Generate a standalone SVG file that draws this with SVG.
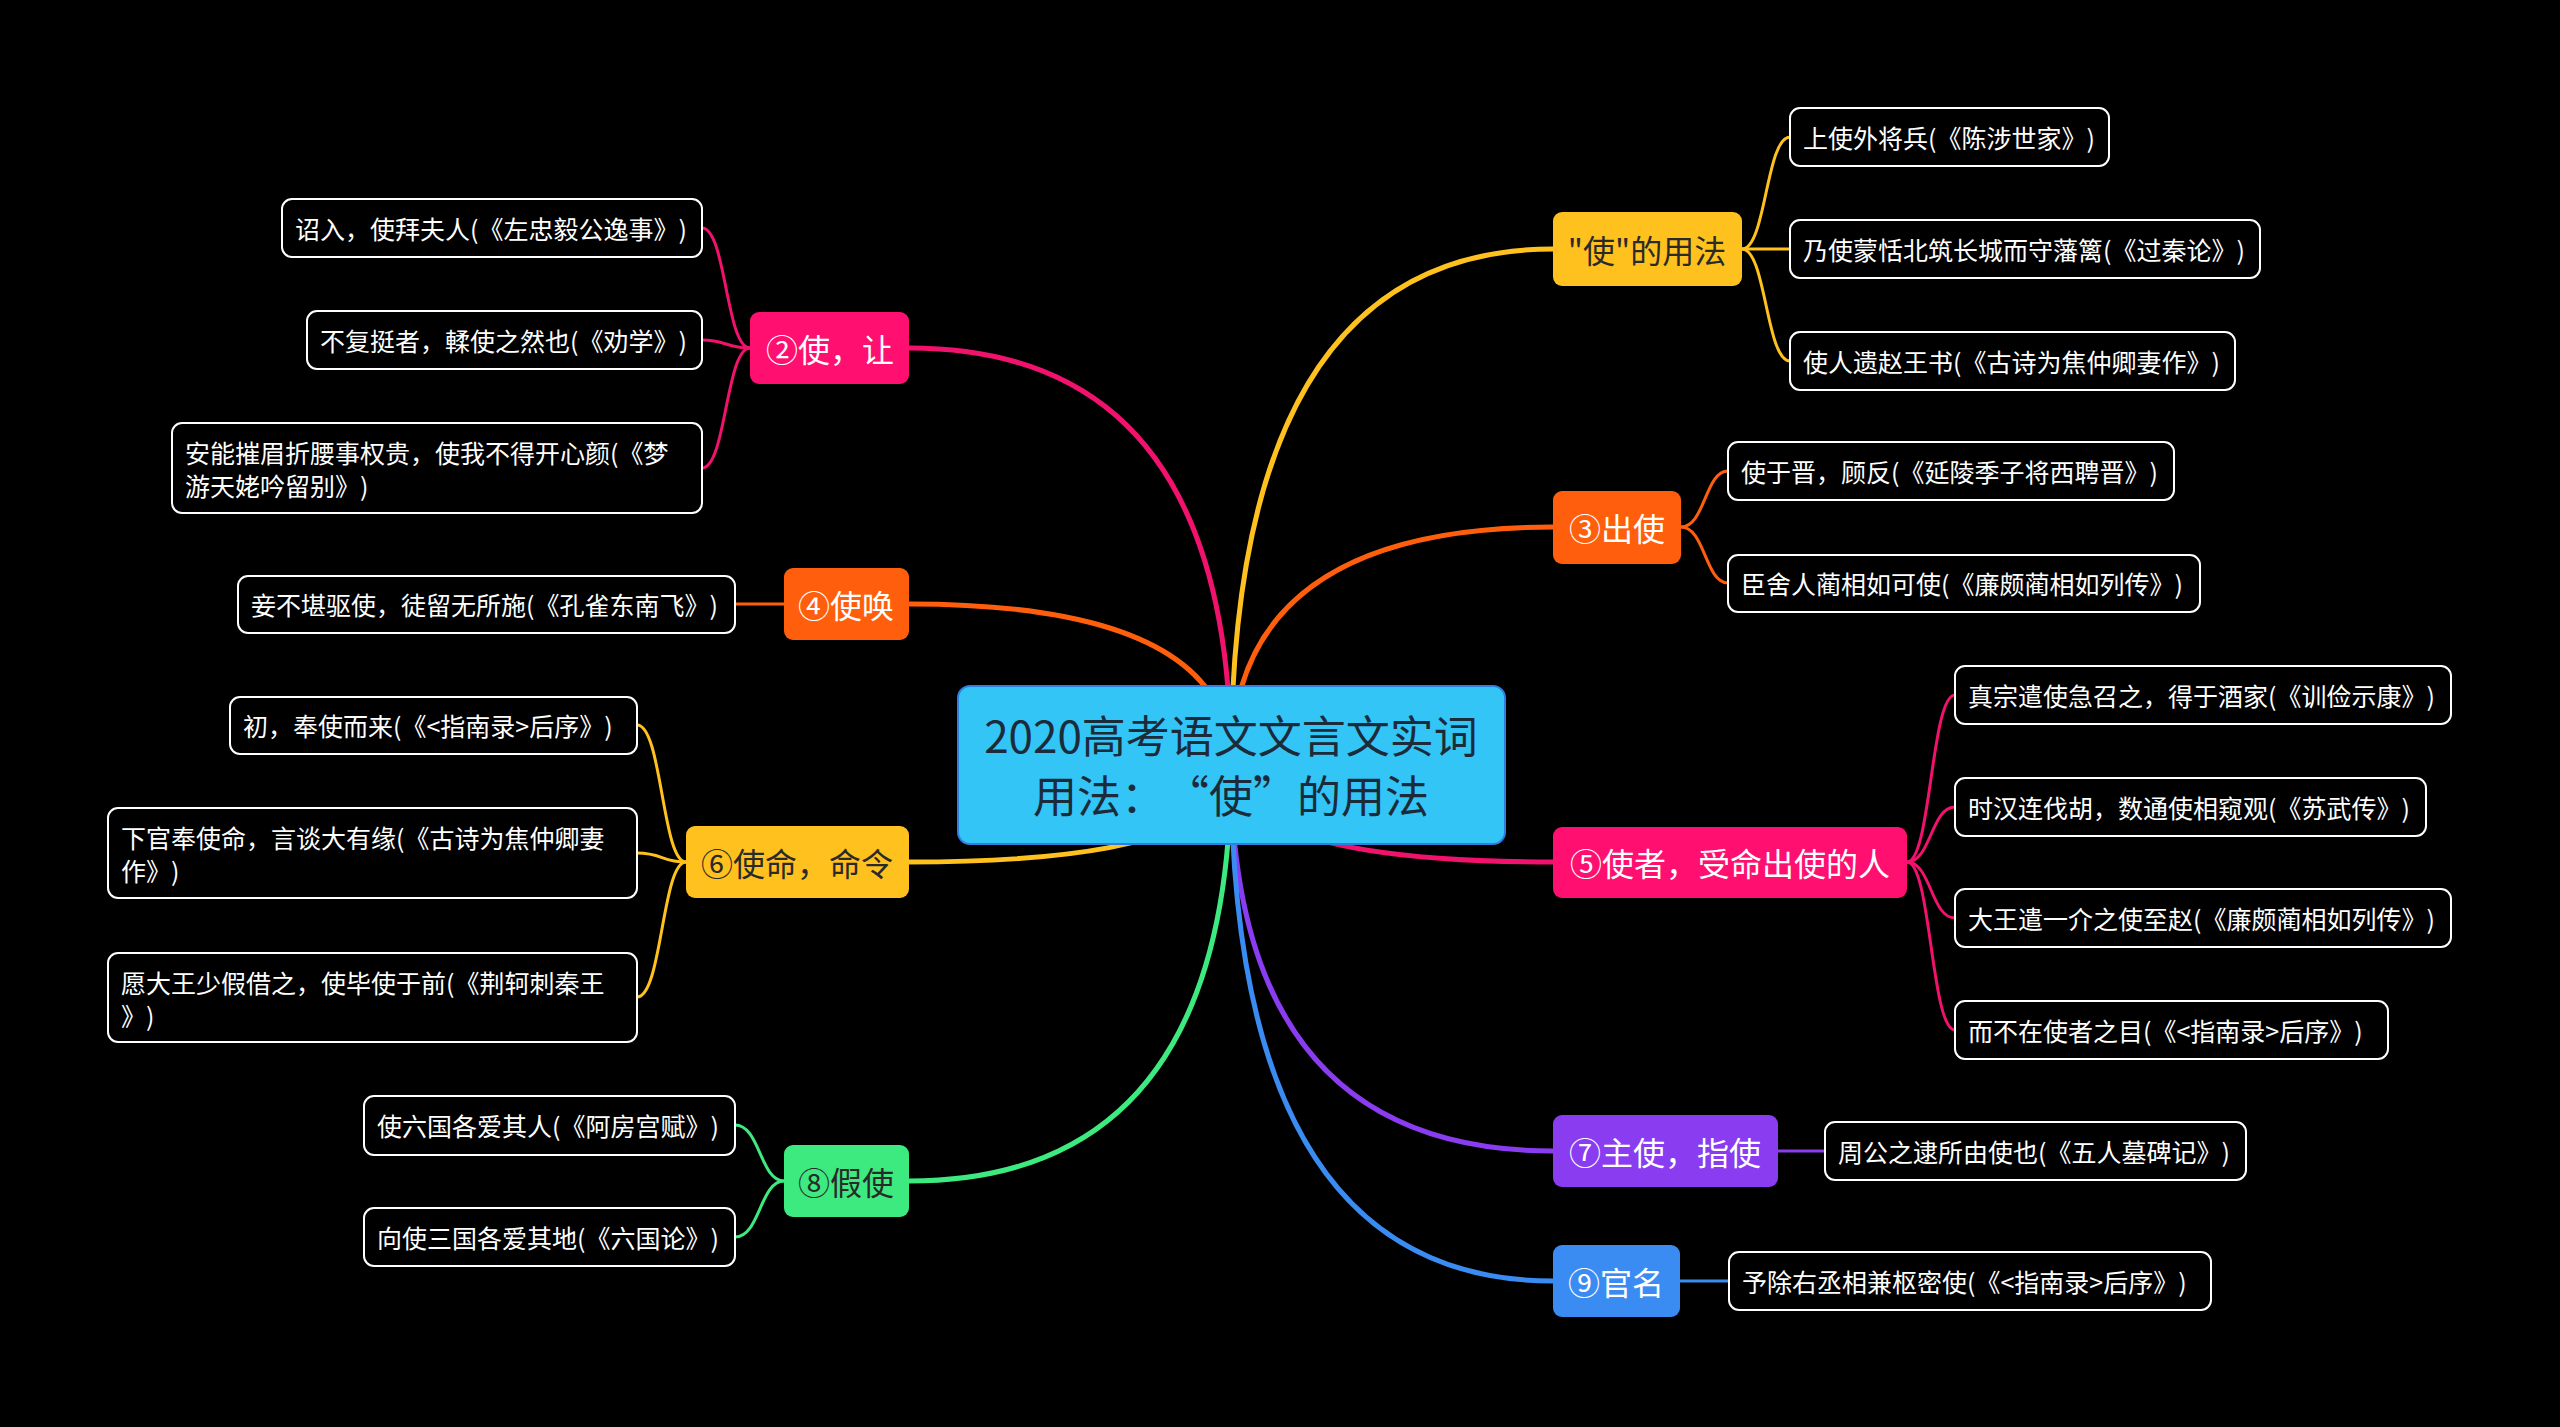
<svg xmlns="http://www.w3.org/2000/svg" width="2560" height="1427" viewBox="0 0 2560 1427">
<style>
text{font-family:"Noto Sans CJK SC","Noto Sans",sans-serif;dominant-baseline:central;text-spacing-trim:space-all;font-feature-settings:"halt" 0,"chws" 0}
.leaf rect{fill:#000;stroke:#fff;stroke-width:2}
.leaf text{fill:#fff;font-size:25px}
.br text{font-size:32px;text-anchor:middle}
.c1{fill:none;stroke-width:5;stroke-linecap:round}
.c2{fill:none;stroke-width:3;stroke-linecap:round}
.y{stroke:#FFC11E}.p{stroke:#F0126C}.o{stroke:#FF5F0D}.v{stroke:#8A3CF0}.g{stroke:#3DEA80}.b{stroke:#3B8CF2}
</style>
<rect x="0" y="0" width="2560" height="1427" fill="#000"/>
<g id="connectors">
<path class="c1 y" d="M1231 765 Q1231 249 1553 249"/>
<path class="c1 p" d="M1231 765 Q1231 348 909 348"/>
<path class="c1 o" d="M1231 765 Q1231 527 1553 527"/>
<path class="c1 o" d="M1231 765 Q1231 604 909 604"/>
<path class="c1 p" d="M1231 765 Q1231 862 1553 862"/>
<path class="c1 y" d="M1231 765 Q1231 862 909 862"/>
<path class="c1 v" d="M1231 765 Q1231 1151 1553 1151"/>
<path class="c1 g" d="M1231 765 Q1231 1181 909 1181"/>
<path class="c1 b" d="M1231 765 Q1231 1281 1553 1281"/>
<path class="c2 y" d="M1742 249 C1766 249 1766 137 1790 137"/>
<path class="c2 y" d="M1742 249 L1790 249"/>
<path class="c2 y" d="M1742 249 C1766 249 1766 361 1790 361"/>
<path class="c2 o" d="M1681 527 C1705 527 1705 471 1728 471"/>
<path class="c2 o" d="M1681 527 C1705 527 1705 583 1728 583"/>
<path class="c2 p" d="M1907 862 C1931 862 1931 695 1955 695"/>
<path class="c2 p" d="M1907 862 C1931 862 1931 807 1955 807"/>
<path class="c2 p" d="M1907 862 C1931 862 1931 918 1955 918"/>
<path class="c2 p" d="M1907 862 C1931 862 1931 1030 1955 1030"/>
<path class="c2 v" d="M1778 1151 L1825 1151"/>
<path class="c2 b" d="M1680 1281 L1729 1281"/>
<path class="c2 p" d="M750 348 C726 348 726 228 702 228"/>
<path class="c2 p" d="M750 348 C726 348 726 340 702 340"/>
<path class="c2 p" d="M750 348 C726 348 726 468 702 468"/>
<path class="c2 o" d="M784 604 L735 604"/>
<path class="c2 y" d="M686 862 C662 862 662 725 637 725"/>
<path class="c2 y" d="M686 862 C662 862 662 853 637 853"/>
<path class="c2 y" d="M686 862 C662 862 662 997 637 997"/>
<path class="c2 g" d="M784 1181 C760 1181 760 1125 735 1125"/>
<path class="c2 g" d="M784 1181 C760 1181 760 1237 735 1237"/>
</g>
<g id="root">
<rect x="958" y="686" width="547" height="158" rx="12" fill="#33C5F6" stroke="#2D7FE0" stroke-width="2"/>
<text x="1231" y="734" font-size="44" text-anchor="middle" fill="#1C2B3A">2020高考语文文言文实词</text>
<text x="1231" y="794" font-size="44" text-anchor="middle" fill="#1C2B3A">用法：“使”的用法</text>
</g>
<g id="b1" class="br"><rect x="1553" y="212" width="189" height="74" rx="9" fill="#FFC11E"/><text x="1647" y="249" fill="#2A2A2A">"使"的用法</text></g>
<g id="b2" class="br"><rect x="750" y="312" width="159" height="72" rx="9" fill="#FF0F6F"/><text x="830" y="348" fill="#fff">②使，让</text></g>
<g id="b3" class="br"><rect x="1553" y="491" width="128" height="73" rx="9" fill="#FF5F0D"/><text x="1617" y="527" fill="#fff">③出使</text></g>
<g id="b4" class="br"><rect x="784" y="568" width="125" height="72" rx="9" fill="#FF5F0D"/><text x="846" y="604" fill="#fff">④使唤</text></g>
<g id="b5" class="br"><rect x="1553" y="827" width="354" height="71" rx="9" fill="#FF0F6F"/><text x="1730" y="862" fill="#fff">⑤使者，受命出使的人</text></g>
<g id="b6" class="br"><rect x="686" y="826" width="223" height="72" rx="9" fill="#FFC11E"/><text x="797" y="862" fill="#2A2A2A">⑥使命，命令</text></g>
<g id="b7" class="br"><rect x="1553" y="1115" width="225" height="72" rx="9" fill="#8A3CF0"/><text x="1665" y="1151" fill="#fff">⑦主使，指使</text></g>
<g id="b8" class="br"><rect x="784" y="1145" width="125" height="72" rx="9" fill="#3DEA80"/><text x="846" y="1181" fill="#2A2A2A">⑧假使</text></g>
<g id="b9" class="br"><rect x="1553" y="1245" width="127" height="72" rx="9" fill="#3B8CF2"/><text x="1616" y="1281" fill="#fff">⑨官名</text></g>
<g id="l1" class="leaf"><rect x="1790" y="108" width="319" height="58" rx="10"/><text x="1803" y="137">上使外将兵(《陈涉世家》)</text></g>
<g id="l2" class="leaf"><rect x="1790" y="220" width="470" height="58" rx="10"/><text x="1803" y="249">乃使蒙恬北筑长城而守藩篱(《过秦论》)</text></g>
<g id="l3" class="leaf"><rect x="1790" y="332" width="445" height="58" rx="10"/><text x="1803" y="361">使人遗赵王书(《古诗为焦仲卿妻作》)</text></g>
<g id="l4" class="leaf"><rect x="1728" y="442" width="446" height="58" rx="10"/><text x="1741" y="471">使于晋，顾反(《延陵季子将西聘晋》)</text></g>
<g id="l5" class="leaf"><rect x="1728" y="555" width="472" height="57" rx="10"/><text x="1741" y="583">臣舍人蔺相如可使(《廉颇蔺相如列传》)</text></g>
<g id="l6" class="leaf"><rect x="1955" y="666" width="496" height="58" rx="10"/><text x="1968" y="695">真宗遣使急召之，得于酒家(《训俭示康》)</text></g>
<g id="l7" class="leaf"><rect x="1955" y="778" width="471" height="58" rx="10"/><text x="1968" y="807">时汉连伐胡，数通使相窥观(《苏武传》)</text></g>
<g id="l8" class="leaf"><rect x="1955" y="889" width="496" height="58" rx="10"/><text x="1968" y="918">大王遣一介之使至赵(《廉颇蔺相如列传》)</text></g>
<g id="l9" class="leaf"><rect x="1955" y="1001" width="433" height="58" rx="10"/><text x="1968" y="1030">而不在使者之目(《&lt;指南录&gt;后序》)</text></g>
<g id="l10" class="leaf"><rect x="1825" y="1122" width="421" height="58" rx="10"/><text x="1838" y="1151">周公之逮所由使也(《五人墓碑记》)</text></g>
<g id="l11" class="leaf"><rect x="1729" y="1252" width="482" height="58" rx="10"/><text x="1742" y="1281">予除右丞相兼枢密使(《&lt;指南录&gt;后序》)</text></g>
<g id="l12" class="leaf"><rect x="282" y="199" width="420" height="58" rx="10"/><text x="295" y="228">诏入，使拜夫人(《左忠毅公逸事》)</text></g>
<g id="l13" class="leaf"><rect x="307" y="311" width="395" height="58" rx="10"/><text x="320" y="340">不复挺者，輮使之然也(《劝学》)</text></g>
<g id="l14" class="leaf"><rect x="172" y="423" width="530" height="90" rx="10"/><text x="185" y="452">安能摧眉折腰事权贵，使我不得开心颜(《梦</text><text x="185" y="485">游天姥吟留别》)</text></g>
<g id="l15" class="leaf"><rect x="238" y="576" width="497" height="57" rx="10"/><text x="251" y="604">妾不堪驱使，徒留无所施(《孔雀东南飞》)</text></g>
<g id="l16" class="leaf"><rect x="230" y="697" width="407" height="57" rx="10"/><text x="243" y="725">初，奉使而来(《&lt;指南录&gt;后序》)</text></g>
<g id="l17" class="leaf"><rect x="108" y="808" width="529" height="90" rx="10"/><text x="121" y="837">下官奉使命，言谈大有缘(《古诗为焦仲卿妻</text><text x="121" y="870">作》)</text></g>
<g id="l18" class="leaf"><rect x="108" y="953" width="529" height="89" rx="10"/><text x="121" y="982">愿大王少假借之，使毕使于前(《荆轲刺秦王</text><text x="121" y="1015">》)</text></g>
<g id="l19" class="leaf"><rect x="364" y="1096" width="371" height="59" rx="10"/><text x="377" y="1125">使六国各爱其人(《阿房宫赋》)</text></g>
<g id="l20" class="leaf"><rect x="364" y="1208" width="371" height="58" rx="10"/><text x="377" y="1237">向使三国各爱其地(《六国论》)</text></g>
</svg>
